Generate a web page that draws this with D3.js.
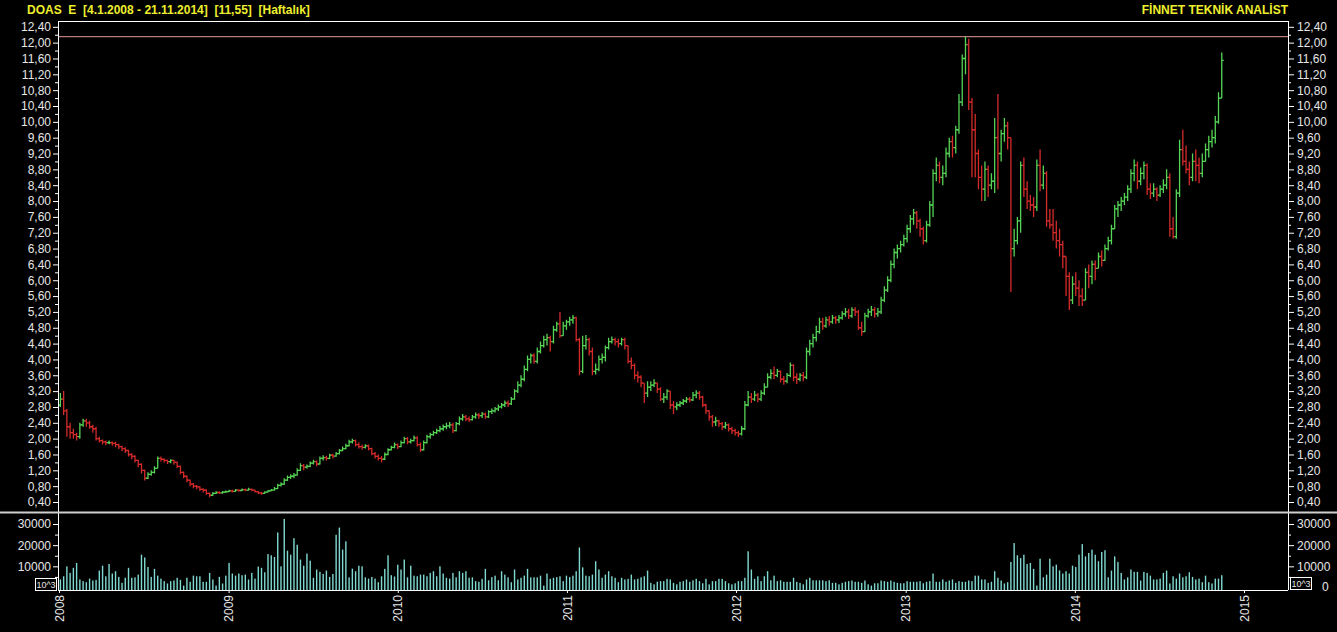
<!DOCTYPE html>
<html>
<head>
<meta charset="utf-8">
<title>DOAS E - Haftalik</title>
<script src="https://cdn.jsdelivr.net/npm/d3@7"></script>
<style>
  html, body { margin: 0; padding: 0; background: #000; }
  svg { display: block; }
  text { font-family: Arial, "Liberation Sans", sans-serif; }
</style>
</head>
<body>
<div id="chart"></div>
<script>
// Weekly bars, first bar 4.1.2008, open of each week = previous close
var titleLeft = "DOAS  E  [4.1.2008 - 21.11.2014]  [11,55]  [Haftalık]";
var titleRight = "FİNNET TEKNİK ANALİST";
var firstDate = "2008-01-04";
var firstOpen = 2.85;

var closes = [
  3.0, 2.7, 2.3, 2.15, 2.1, 2.05, 2.35, 2.45, 2.4, 2.3,
  2.25, 2.0, 1.95, 1.92, 1.9, 1.9, 1.88, 1.85, 1.8, 1.75,
  1.7, 1.6, 1.55, 1.45, 1.35, 1.2, 1.0, 1.1, 1.15, 1.25,
  1.5, 1.48, 1.45, 1.42, 1.45, 1.4, 1.3, 1.15, 1.05, 0.95,
  0.85, 0.8, 0.78, 0.72, 0.7, 0.62, 0.57, 0.62, 0.64, 0.63,
  0.65, 0.66, 0.68, 0.67, 0.7, 0.69, 0.71, 0.7, 0.72, 0.7,
  0.66, 0.63, 0.62, 0.65, 0.68, 0.7, 0.74, 0.82, 0.85, 0.95,
  1.02, 1.05, 1.08, 1.2, 1.32, 1.28, 1.3, 1.38, 1.42, 1.36,
  1.5, 1.52, 1.5, 1.58, 1.56, 1.62, 1.7, 1.75, 1.82, 1.92,
  1.95, 1.85, 1.8, 1.78, 1.82, 1.75, 1.62, 1.55, 1.5, 1.48,
  1.6, 1.72, 1.78, 1.85, 1.8, 1.9, 2.0, 1.92, 1.95, 2.02,
  1.85, 1.72, 1.9, 2.05, 2.1, 2.15, 2.2, 2.25, 2.3, 2.32,
  2.35, 2.2, 2.38, 2.5, 2.55, 2.5, 2.48, 2.55, 2.6, 2.58,
  2.62, 2.55, 2.68, 2.7, 2.75, 2.8, 2.85, 2.9, 2.88, 3.0,
  3.2, 3.35, 3.5, 3.75, 4.0, 4.1, 3.95, 4.2, 4.35, 4.5,
  4.55, 4.45, 4.75, 4.9, 4.6, 4.85, 4.95, 5.0, 5.05, 4.5,
  3.7, 4.35, 4.5, 4.2, 3.7, 3.75, 4.0, 4.05, 4.3, 4.45,
  4.5, 4.45, 4.4, 4.5, 4.35, 3.95, 3.85, 3.6, 3.55, 3.4,
  3.15, 3.3, 3.35, 3.4, 3.25, 3.0, 3.05, 3.2, 2.85, 2.8,
  2.85, 2.9, 2.95, 3.0, 2.98, 3.1, 3.15, 3.05, 2.85, 2.7,
  2.55, 2.42, 2.45, 2.38, 2.3, 2.35, 2.25, 2.2, 2.15, 2.12,
  2.25, 2.85, 3.05, 3.0, 3.1, 3.0, 3.15, 3.3, 3.55, 3.65,
  3.6, 3.7, 3.5, 3.45, 3.6, 3.85, 3.55, 3.5, 3.6, 3.55,
  4.2, 4.4, 4.55, 4.7, 4.95, 4.85, 5.0, 4.95, 5.05, 5.0,
  5.05, 5.15, 5.2, 5.1, 5.25, 5.2, 4.8, 4.7, 5.1, 5.2,
  5.25, 5.15, 5.2, 5.5, 5.75, 6.0, 6.4, 6.7, 6.8, 6.9,
  7.05, 7.3, 7.55, 7.7, 7.5, 7.3, 7.0, 7.4, 7.9, 8.7,
  8.9, 8.6, 8.7, 9.2, 9.5, 9.35, 9.8, 10.5, 11.6, 11.95,
  10.5, 9.8, 9.2, 8.6, 8.3, 8.8, 8.4, 8.5, 9.6, 9.2,
  9.7, 9.9, 9.6, 6.8, 7.0, 7.5, 8.9, 8.3, 8.0, 7.9,
  7.85, 8.9, 8.4, 8.7, 7.5, 7.4, 7.2, 7.0, 6.9, 6.6,
  6.1, 5.5, 5.9, 5.8, 5.6, 5.5, 6.2, 6.1, 6.4, 6.3,
  6.6, 6.5, 6.8, 7.0, 7.3, 7.8, 7.9, 8.0, 8.1, 8.3,
  8.7, 8.9, 8.5, 8.7, 8.9, 8.3, 8.2, 8.3, 8.15, 8.3,
  8.4, 8.6, 7.3, 7.1, 8.2, 9.3, 9.0, 8.8, 8.6, 9.0,
  8.9, 8.7, 9.0, 9.3, 9.5, 9.6, 10.0, 10.6, 11.55
];

var highs = [
  3.15, 3.2, 2.75, 2.4, 2.25, 2.15, 2.4, 2.5, 2.5, 2.45,
  2.35, 2.3, 2.05, 1.98, 1.95, 1.95, 1.93, 1.92, 1.87, 1.82,
  1.78, 1.72, 1.63, 1.58, 1.47, 1.38, 1.22, 1.15, 1.2, 1.3,
  1.55, 1.55, 1.5, 1.47, 1.48, 1.47, 1.42, 1.32, 1.17, 1.07,
  0.97, 0.88, 0.83, 0.8, 0.75, 0.72, 0.64, 0.65, 0.67, 0.67,
  0.68, 0.69, 0.71, 0.71, 0.73, 0.72, 0.74, 0.74, 0.76, 0.74,
  0.71, 0.68, 0.65, 0.67, 0.7, 0.73, 0.78, 0.86, 0.9, 1.0,
  1.07, 1.1, 1.13, 1.25, 1.38, 1.36, 1.35, 1.42, 1.47, 1.45,
  1.55, 1.58, 1.57, 1.62, 1.62, 1.66, 1.74, 1.8, 1.87, 1.97,
  2.0, 1.98, 1.9, 1.85, 1.86, 1.85, 1.77, 1.66, 1.6, 1.56,
  1.65, 1.76, 1.82, 1.9, 1.88, 1.95, 2.05, 2.04, 2.0, 2.08,
  2.06, 1.9, 1.95, 2.1, 2.15, 2.2, 2.25, 2.32, 2.36, 2.4,
  2.42, 2.4, 2.42, 2.56, 2.62, 2.6, 2.56, 2.6, 2.66, 2.65,
  2.67, 2.66, 2.72, 2.76, 2.8, 2.86, 2.9, 2.96, 2.96, 3.05,
  3.25, 3.45, 3.6, 3.85, 4.1, 4.15, 4.15, 4.3, 4.45, 4.6,
  4.65, 4.6, 4.85, 4.95, 5.2, 4.95, 5.0, 5.08, 5.12, 5.08,
  4.55, 4.6, 4.62, 4.55, 4.3, 3.9, 4.1, 4.15, 4.35, 4.55,
  4.58, 4.55, 4.52, 4.55, 4.55, 4.35, 4.05, 3.9, 3.7, 3.6,
  3.4, 3.45, 3.45, 3.5, 3.42, 3.3, 3.15, 3.25, 3.2, 2.95,
  2.92, 2.95, 3.0, 3.05, 3.05, 3.18, 3.22, 3.2, 3.08, 2.88,
  2.72, 2.6, 2.55, 2.48, 2.42, 2.42, 2.38, 2.3, 2.25, 2.2,
  2.32, 2.95, 3.2, 3.15, 3.2, 3.15, 3.22, 3.4, 3.65, 3.75,
  3.82, 3.76, 3.72, 3.58, 3.66, 3.92, 3.88, 3.65, 3.66, 3.68,
  4.3, 4.5, 4.65, 4.85, 5.05, 5.05, 5.08, 5.1, 5.12, 5.1,
  5.12, 5.22, 5.3, 5.28, 5.32, 5.32, 5.25, 4.95, 5.18, 5.28,
  5.35, 5.32, 5.3, 5.58, 5.85, 6.1, 6.5, 6.8, 6.9, 7.0,
  7.15, 7.4, 7.65, 7.8, 7.75, 7.55, 7.35, 7.5, 8.0, 8.8,
  9.1, 9.0, 8.9, 9.35, 9.6, 9.65, 9.9, 10.7, 11.7, 12.15,
  12.1, 10.6, 10.2, 9.3, 8.9, 9.0, 8.9, 8.7, 10.1, 10.7,
  9.8, 10.1, 10.0, 9.6, 7.3, 7.6, 9.0, 9.1, 8.5, 8.15,
  8.1, 9.05, 9.3, 8.9, 8.75, 7.8, 7.8, 7.5, 7.3, 7.0,
  6.6, 6.2, 6.1, 6.2, 6.0, 5.8, 6.3, 6.4, 6.5, 6.5,
  6.7, 6.75, 6.9, 7.1, 7.4, 7.9, 8.0, 8.1, 8.2, 8.4,
  8.8, 9.05, 9.0, 8.85, 9.0, 8.95, 8.45, 8.45, 8.35, 8.4,
  8.55, 8.8, 8.7, 7.6, 8.3, 9.55, 9.8, 9.4, 9.0, 9.2,
  9.3, 9.1, 9.2, 9.45, 9.65, 9.8, 10.15, 10.75, 11.75
];

var lows = [
  2.8, 2.6, 2.05, 2.0, 2.0, 1.95, 2.0, 2.3, 2.3, 2.25,
  2.15, 1.95, 1.9, 1.85, 1.83, 1.86, 1.82, 1.78, 1.74, 1.68,
  1.64, 1.55, 1.48, 1.4, 1.28, 1.12, 0.94, 0.98, 1.06, 1.12,
  1.25, 1.42, 1.4, 1.36, 1.38, 1.34, 1.26, 1.1, 1.0, 0.9,
  0.8, 0.75, 0.72, 0.68, 0.64, 0.58, 0.52, 0.56, 0.6, 0.6,
  0.61, 0.63, 0.65, 0.64, 0.66, 0.66, 0.68, 0.67, 0.69, 0.67,
  0.64, 0.6, 0.58, 0.61, 0.64, 0.67, 0.69, 0.73, 0.79, 0.83,
  0.93, 0.98, 1.0, 1.06, 1.18, 1.2, 1.24, 1.28, 1.35, 1.3,
  1.35, 1.45, 1.44, 1.48, 1.5, 1.54, 1.6, 1.68, 1.73, 1.8,
  1.88, 1.8, 1.75, 1.72, 1.75, 1.7, 1.58, 1.5, 1.45, 1.4,
  1.46, 1.58, 1.7, 1.76, 1.74, 1.78, 1.88, 1.86, 1.88, 1.93,
  1.8, 1.66, 1.7, 1.88, 2.0, 2.07, 2.12, 2.16, 2.2, 2.24,
  2.26, 2.14, 2.18, 2.34, 2.45, 2.44, 2.42, 2.46, 2.5, 2.5,
  2.52, 2.5, 2.52, 2.62, 2.66, 2.7, 2.76, 2.8, 2.8, 2.85,
  2.98, 3.15, 3.3, 3.45, 3.7, 3.9, 3.9, 3.9, 4.15, 4.3,
  4.35, 4.2, 4.4, 4.7, 4.55, 4.6, 4.75, 4.85, 4.9, 4.45,
  3.6, 3.65, 4.25, 4.1, 3.6, 3.62, 3.7, 3.9, 3.95, 4.25,
  4.4, 4.35, 4.3, 4.35, 4.25, 3.9, 3.75, 3.5, 3.42, 3.3,
  2.9, 3.05, 3.2, 3.3, 3.15, 2.95, 2.9, 2.98, 2.75, 2.62,
  2.72, 2.8, 2.85, 2.9, 2.92, 2.95, 3.02, 2.98, 2.8, 2.62,
  2.45, 2.3, 2.32, 2.3, 2.22, 2.25, 2.18, 2.12, 2.08, 2.04,
  2.08, 2.22, 2.82, 2.9, 2.95, 2.92, 2.95, 3.1, 3.3, 3.5,
  3.5, 3.55, 3.42, 3.36, 3.4, 3.55, 3.45, 3.38, 3.45, 3.45,
  3.5, 4.1, 4.3, 4.45, 4.65, 4.75, 4.8, 4.85, 4.9, 4.9,
  4.92, 5.0, 5.08, 5.02, 5.05, 5.1, 4.75, 4.6, 4.7, 5.05,
  5.1, 5.05, 5.08, 5.15, 5.45, 5.7, 5.95, 6.3, 6.55, 6.7,
  6.85, 6.95, 7.2, 7.4, 7.3, 7.1, 6.9, 6.95, 7.35, 7.6,
  8.5, 8.45, 8.4, 8.6, 9.1, 9.1, 9.2, 9.7, 10.4, 11.2,
  10.3, 8.6, 8.6, 8.3, 8.0, 8.0, 8.1, 8.3, 8.2, 8.3,
  9.0, 9.5, 9.3, 5.7, 6.6, 6.9, 7.2, 8.1, 7.8, 7.75,
  7.6, 7.75, 8.25, 8.3, 7.35, 7.3, 7.0, 6.8, 6.6, 6.3,
  5.6, 5.25, 5.4, 5.6, 5.35, 5.35, 5.5, 5.8, 5.9, 6.0,
  6.3, 6.35, 6.5, 6.75, 6.9, 7.3, 7.6, 7.75, 7.9, 8.0,
  8.2, 8.5, 8.3, 8.4, 8.55, 8.15, 8.05, 8.1, 8.0, 8.1,
  8.2, 8.3, 7.1, 7.05, 7.05, 8.1, 8.9, 8.7, 8.4, 8.5,
  8.5, 8.45, 8.6, 9.0, 9.1, 9.35, 9.45, 9.95, 10.6
];

// volume in thousands of the axis unit (axis unit = 10^3 lots)
var volumesK = [
  3.8, 5.3, 10, 6.9, 9.3, 11.6, 3.8, 3.0, 2.5, 4.2, 3.3, 3.6, 8, 10.3, 5.3, 11.1, 6.6, 7.7, 5, 2.2,
  4.6, 9.3, 4.6, 4.8, 6.1, 15.5, 14.2, 9.7, 5, 8.8, 5.6, 4.2, 3, 1.9, 3, 3.3, 4.6, 3.6, 0.9, 4.6,
  2.7, 5.6, 5.3, 5.3, 2.7, 2.7, 6.9, 3.8, 0.9, 5, 1.9, 5.6,
  11.6, 6.6, 5.6, 6.6, 5.8, 6.1, 3.8, 6.9, 4.2, 9.9, 9.3, 7.2, 15.8, 15.2, 14.4, 26, 10, 32.4, 17.4, 15.5,
  23.3, 20.2, 13.2, 10.3, 16, 12.7, 4.6, 8.5, 7.4, 6.4, 8, 5, 6.4, 24.9, 28.3, 17.9, 21.8, 4.8, 8.9, 7.7,
  10.3, 10, 4.8, 4.2, 5, 4.2, 2.5, 5.3, 8.8, 15.2, 5.8, 5.2,
  10.8, 8.5, 13.2, 4.8, 10.3, 5.6, 5.3, 6.1, 6.1, 5.3, 6.9, 7.7, 5.3, 10, 6.6, 4.6, 4.2, 6.9, 4.8, 7.7,
  6.9, 7.7, 4.6, 4.8, 3, 2.7, 4.1, 8.8, 3.4, 4.9, 5.6, 3.4, 7.7, 6.1, 4.8, 2.5, 8.5, 3.8, 4.6, 5.6,
  8.8, 4.8, 4.8, 4.8, 5.6, 0.9, 6.6, 4.1, 4.6, 4.9, 5.3, 3,
  5.6, 4.9, 5.6, 7.7, 18.9, 9.5, 5.6, 5.3, 6.1, 12.4, 8.5, 4.6, 6.1, 7.7, 5.3, 4.6, 2.5, 4.6, 3.8, 4.1,
  6.1, 3.8, 4.1, 4.8, 5.3, 8, 2.2, 1.5, 2.7, 3, 3, 4.1, 3.8, 2.2, 1.5, 2.7, 3, 3.8, 2.7, 3.4, 4.1,
  3, 2, 4.1, 1.5, 3, 3, 4.1, 4.1, 3, 2, 1.5, 2, 3, 3, 4.6, 17.1, 8.5, 4.1, 5.3, 3,
  5.3, 7.7, 3.4, 5.6, 3, 3.4, 2.7, 2.7, 2.7, 4.6, 2.7, 2.2, 1.5, 3.8, 4.6, 3.4, 3.4, 3.4, 3.4, 3,
  3.4, 2.2, 2.2, 1.5, 2.2, 2.7, 3, 3.3, 2.7, 2.7, 2.2, 3.3, 1.5, 0.9, 2, 2, 3.3, 3, 2.7, 3.3,
  2.7, 2.2, 2, 2, 3, 2.7, 2.7, 2.7, 3, 2, 2.7, 3, 6.6, 2.7, 2.7, 3.8, 2.7, 3.3, 3.8, 2.2,
  3, 2.7, 2.7, 3.3, 3, 5.6, 5.6, 3.8, 3.8, 2.2, 2.7, 7.7, 4.6, 3.3,
  1.9, 2.5, 12.1, 21, 15.2, 13.9, 15.5, 11.1, 11.6, 8.8, 0.9, 13.6, 4.8, 6.1, 13.6, 10, 10.8, 8.1, 6.6, 7.7,
  6.6, 10.3, 9.7, 15.5, 20.5, 14.7, 16.3, 17.9, 15.5, 12.4, 16.8, 17.6, 4.8, 8, 14.7, 12.1, 6.9, 3.8, 4.8, 8.5,
  7.4, 7.4, 3.3, 7.4, 6.9, 5.6, 3.8, 3.8, 4.2, 6.9, 8, 1.9, 5.3, 4.2, 6.6, 4.8, 5.3, 7.2, 5, 3.8,
  4.2, 2.5, 5.6, 2.5, 1.9, 4.2, 4.2, 5.8
];

var priceTicks = [0.4, 0.8, 1.2, 1.6, 2.0, 2.4, 2.8, 3.2, 3.6, 4.0, 4.4, 4.8, 5.2, 5.6, 6.0, 6.4,
  6.8, 7.2, 7.6, 8.0, 8.4, 8.8, 9.2, 9.6, 10.0, 10.4, 10.8, 11.2, 11.6, 12.0, 12.4];
var volumeTicks = [10000, 20000, 30000];
var volumeMinorTicks = [5000, 15000, 25000];
var yearLabels = ["2008", "2009", "2010", "2011", "2012", "2013", "2014", "2015"];

// Layout
var width = 1337,
    height = 632,
    left = 58,
    right = 1288,
    frameTop = 21,
    split = 512.5,
    volBase = 590;

var upColor = "#55d455",
    downColor = "#d42a2a",
    volColor = "#7fd9d0",
    axisColor = "#ffffff",
    labelColor = "#e6e6e6",
    titleColor = "#eeee2e";

var svg = d3.select("#chart").append("svg")
    .attr("width", width)
    .attr("height", height)
    .style("background", "#000");

var parseDate = d3.timeParse("%Y-%m-%d");
var start = parseDate(firstDate);
var n = Math.min(closes.length, highs.length, lows.length, volumesK.length);

var data = d3.range(n).map(function(i) {
  return {
    date: d3.timeDay.offset(start, 7 * i),
    open: i ? closes[i - 1] : firstOpen,
    high: highs[i],
    low: lows[i],
    close: closes[i],
    volume: volumesK[i] * 1000
  };
});

// Scales
var x = d3.scaleTime()
    .domain([new Date(2008, 0, 1), new Date(2015, 0, 1)])
    .range([59, 1244]);

var y = d3.scaleLinear()
    .domain([0.4, 12.4])
    .range([502, 26.8]);

var yv = d3.scaleLinear()
    .domain([0, 30000])
    .range([587.5, 524]);

var comma = d3.formatLocale({decimal: ",", thousands: ".", grouping: [3], currency: ["", ""]});
var priceFormat = comma.format(".2f");

// Titles
svg.append("text")
    .attr("x", 27).attr("y", 14)
    .attr("fill", titleColor)
    .attr("font-size", 12).attr("font-weight", "bold")
    .style("white-space", "pre")
    .text(titleLeft);

svg.append("text")
    .attr("x", right).attr("y", 14)
    .attr("text-anchor", "end")
    .attr("fill", titleColor)
    .attr("font-size", 12).attr("font-weight", "bold")
    .text(titleRight);

// Highest high line
var maxHigh = d3.max(data, function(d) { return d.high; });
svg.append("line")
    .attr("x1", left).attr("x2", right)
    .attr("y1", y(maxHigh)).attr("y2", y(maxHigh))
    .attr("stroke", "#e79a9a").attr("stroke-width", 1);

// Price bars (OHLC)
svg.append("g").selectAll("path.bar")
    .data(data)
  .enter().append("path")
    .attr("class", "bar")
    .attr("fill", "none")
    .attr("stroke-width", 1.3)
    .attr("stroke", function(d) { return d.close >= d.open ? upColor : downColor; })
    .attr("d", function(d) {
      var cx = x(d.date);
      return "M" + cx + "," + y(d.high) + "V" + y(d.low) +
             "M" + (cx - 2) + "," + y(d.open) + "H" + cx +
             "M" + cx + "," + y(d.close) + "H" + (cx + 2);
    });

// Volume bars
svg.append("g").selectAll("rect.vol")
    .data(data)
  .enter().append("rect")
    .attr("class", "vol")
    .attr("x", function(d) { return x(d.date) - 0.7; })
    .attr("width", 1.4)
    .attr("y", function(d) { return yv(d.volume); })
    .attr("height", function(d) { return volBase - yv(d.volume); })
    .attr("fill", volColor);

// Axes helper
function styleAxis(g) {
  g.select(".domain").remove();
  g.selectAll(".tick line").attr("stroke", axisColor);
  g.selectAll(".tick text")
      .attr("fill", labelColor)
      .attr("font-size", 12)
      .attr("font-family", "Arial, 'Liberation Sans', sans-serif");
}

var minorPrice = priceTicks.slice(0, -1).map(function(v) { return v + 0.2; });

svg.append("g")
    .attr("transform", "translate(" + left + ",0)")
    .call(d3.axisLeft(y).tickValues(priceTicks).tickFormat(priceFormat).tickSize(5).tickPadding(2))
    .call(styleAxis);
svg.append("g")
    .attr("transform", "translate(" + left + ",0)")
    .call(d3.axisLeft(y).tickValues(minorPrice).tickFormat("").tickSize(3))
    .call(styleAxis);
svg.append("g")
    .attr("transform", "translate(" + right + ",0)")
    .call(d3.axisRight(y).tickValues(priceTicks).tickFormat(priceFormat).tickSize(6).tickPadding(3))
    .call(styleAxis);
svg.append("g")
    .attr("transform", "translate(" + right + ",0)")
    .call(d3.axisRight(y).tickValues(minorPrice).tickFormat("").tickSize(3))
    .call(styleAxis);

// Volume axes
svg.append("g")
    .attr("transform", "translate(" + left + ",0)")
    .call(d3.axisLeft(yv).tickValues(volumeTicks).tickFormat(d3.format("d")).tickSize(5).tickPadding(2))
    .call(styleAxis);
svg.append("g")
    .attr("transform", "translate(" + left + ",0)")
    .call(d3.axisLeft(yv).tickValues(volumeMinorTicks).tickFormat("").tickSize(3))
    .call(styleAxis);
svg.append("g")
    .attr("transform", "translate(" + right + ",0)")
    .call(d3.axisRight(yv).tickValues(volumeTicks).tickFormat(d3.format("d")).tickSize(6).tickPadding(3))
    .call(styleAxis);
svg.append("g")
    .attr("transform", "translate(" + right + ",0)")
    .call(d3.axisRight(yv).tickValues(volumeMinorTicks).tickFormat("").tickSize(3))
    .call(styleAxis);

svg.append("text")
    .attr("x", 1322).attr("y", yv(0))
    .attr("dy", "0.32em")
    .attr("fill", labelColor)
    .attr("font-size", 12)
    .text("0");

// 10^3 boxes
[[35, 578], [1290, 577]].forEach(function(p) {
  svg.append("rect")
      .attr("x", p[0] + 0.5).attr("y", p[1] + 0.5)
      .attr("width", 21).attr("height", 12)
      .attr("fill", "#000").attr("stroke", axisColor).attr("stroke-width", 1);
  svg.append("text")
      .attr("x", p[0] + 11).attr("y", p[1] + 9.5)
      .attr("text-anchor", "middle")
      .attr("fill", labelColor)
      .attr("font-size", 9)
      .text("10^3");
});

// Time axis with vertical year labels
var yearDates = yearLabels.map(function(s) { return new Date(+s, 0, 1); });
svg.append("g")
    .attr("transform", "translate(0," + volBase + ")")
    .call(d3.axisBottom(x).tickValues(yearDates).tickFormat(d3.timeFormat("%Y")).tickSize(3))
    .call(styleAxis)
    .selectAll(".tick text")
      .attr("transform", "rotate(-90)")
      .attr("text-anchor", "end")
      .attr("x", -5)
      .attr("y", 0)
      .attr("dy", "0.35em");

// Frame lines
var frame = svg.append("g").attr("stroke", axisColor).attr("shape-rendering", "crispEdges");
frame.append("line").attr("x1", left).attr("x2", right).attr("y1", frameTop).attr("y2", frameTop);
frame.append("line").attr("x1", left).attr("x2", left).attr("y1", frameTop).attr("y2", volBase);
frame.append("line").attr("x1", right).attr("x2", right).attr("y1", frameTop).attr("y2", volBase);
frame.append("line").attr("x1", left).attr("x2", right).attr("y1", volBase).attr("y2", volBase);

svg.append("line")
    .attr("x1", 0).attr("x2", width)
    .attr("y1", split).attr("y2", split)
    .attr("stroke", "#cfcfcf").attr("stroke-width", 2);
</script>
</body>
</html>
